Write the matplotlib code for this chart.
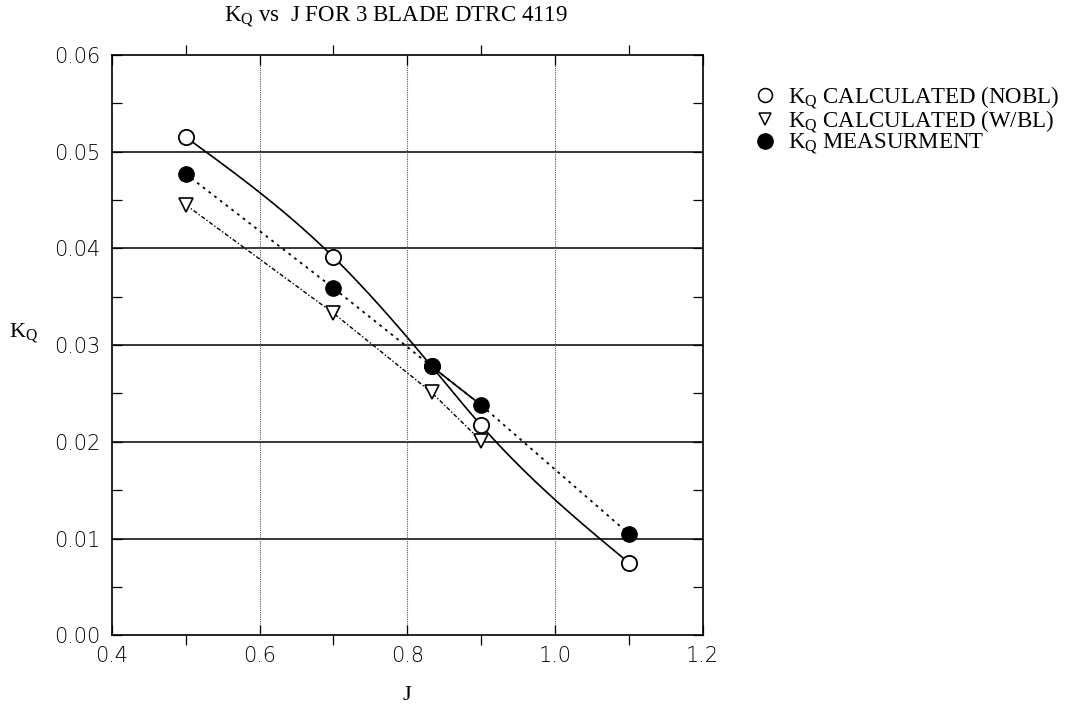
import numpy as np
import matplotlib
matplotlib.use("Agg")
import matplotlib.pyplot as plt
from matplotlib.ticker import MultipleLocator
from matplotlib.lines import Line2D

plt.rcParams['mathtext.fontset'] = 'custom'
plt.rcParams['mathtext.rm'] = 'Liberation Serif'

# advance coefficient and torque coefficient values
j_nobl = [0.5, 0.7, 0.833, 0.9, 1.1]
kq_nobl = [0.0515, 0.0391, 0.0278, 0.0217, 0.0075]

j_wbl = [0.5, 0.7, 0.833, 0.9]
kq_wbl = [0.0445, 0.0333, 0.0251, 0.0201]

j_meas = [0.5, 0.7, 0.833, 0.9, 1.1]
kq_meas = [0.0477, 0.0359, 0.0278, 0.0238, 0.0105]

x_ticks = [0.4, 0.6, 0.8, 1.0, 1.2]
y_ticks = [0.00, 0.01, 0.02, 0.03, 0.04, 0.05, 0.06]


def natural_spline(x, y, n=200):
    # natural cubic spline through the given points, for a smooth curve
    x = np.asarray(x, float)
    y = np.asarray(y, float)
    k = len(x)
    h = np.diff(x)
    A = np.zeros((k, k))
    b = np.zeros(k)
    A[0, 0] = A[-1, -1] = 1.0
    for i in range(1, k - 1):
        A[i, i - 1] = h[i - 1]
        A[i, i] = 2 * (h[i - 1] + h[i])
        A[i, i + 1] = h[i]
        b[i] = 6 * ((y[i + 1] - y[i]) / h[i] - (y[i] - y[i - 1]) / h[i - 1])
    m = np.linalg.solve(A, b)
    xs = np.linspace(x[0], x[-1], n)
    idx = np.clip(np.searchsorted(x, xs) - 1, 0, k - 2)
    x0, x1 = x[idx], x[idx + 1]
    hh = x1 - x0
    t0, t1 = x1 - xs, xs - x0
    ys = (m[idx] * t0**3 + m[idx + 1] * t1**3) / (6 * hh) \
        + (y[idx] / hh - m[idx] * hh / 6) * t0 \
        + (y[idx + 1] / hh - m[idx + 1] * hh / 6) * t1
    return xs, ys


fig = plt.figure(figsize=(10.76, 7.13), dpi=100)
ax = fig.add_axes([0.104, 0.109, 0.549, 0.814])

ax.set_xlim(0.4, 1.2)
ax.set_ylim(0.0, 0.06)

# grid: solid horizontals, faint dotted verticals
for yv in y_ticks[1:-1]:
    ax.axhline(yv, color='black', lw=1.1, zorder=1)
for xv in x_ticks[1:-1]:
    ax.axvline(xv, color='#555555', lw=0.8, ls=(0, (1, 1)), zorder=1)

xs, ys = natural_spline(j_nobl, kq_nobl)
ax.plot(xs, ys, color='black', lw=1.2, zorder=2)
ax.plot(j_meas, kq_meas, color='black', lw=1.3, ls=(0, (1.5, 2.5)), zorder=2)
# the pen ran solid between the third and fourth measured points
ax.plot(j_meas[2:4], kq_meas[2:4], color='black', lw=1.2, zorder=2)
ax.plot(j_wbl, kq_wbl, color='black', lw=1.0, ls=(0, (3, 1.5, 1, 1.5)), zorder=2)

ax.plot(j_nobl, kq_nobl, ls='none', marker='o', ms=11, mfc='white',
        mec='black', mew=1.3, zorder=3)
ax.plot(j_wbl, kq_wbl, ls='none', marker='v', ms=10, mfc='white',
        mec='black', mew=1.2, zorder=3)
ax.plot(j_meas, kq_meas, ls='none', marker='o', ms=11, mfc='black',
        mec='black', zorder=4)

ax.set_xticks(x_ticks)
ax.set_xticklabels(['%.1f' % v for v in x_ticks])
ax.set_yticks(y_ticks)
ax.set_yticklabels(['%.2f' % v for v in y_ticks])
ax.xaxis.set_minor_locator(MultipleLocator(0.1))
ax.yaxis.set_minor_locator(MultipleLocator(0.005))
ax.tick_params(which='both', direction='in', top=True, right=True,
               length=7, width=0.9, labelsize=15, pad=8)
ax.tick_params(axis='x', which='minor', direction='out', length=7)
for lab in ax.get_xticklabels() + ax.get_yticklabels():
    lab.set_fontfamily('DejaVu Sans')
    lab.set_fontweight('light')
for sp in ax.spines.values():
    sp.set_linewidth(1.2)

serif = 'Liberation Serif'
ax.set_title(r'$\mathregular{K_Q}$ vs  J FOR 3 BLADE DTRC 4119',
             fontfamily=serif, fontsize=16.5, pad=24, x=0.48)
ax.set_xlabel('J', fontfamily=serif, fontsize=16, labelpad=14)
ax.set_ylabel(r'$\mathregular{K_Q}$', fontfamily=serif, fontsize=16,
              rotation=0, labelpad=4)
ax.yaxis.set_label_coords(-0.15, 0.5)

handles = [
    Line2D([], [], ls='none', marker='o', ms=10, mfc='white', mec='black', mew=1.1),
    Line2D([], [], ls='none', marker='v', ms=9, mfc='white', mec='black', mew=1.1),
    Line2D([], [], ls='none', marker='o', ms=11, mfc='black', mec='black'),
]
labels = [r'$\mathregular{K_Q}$ CALCULATED (NOBL)',
          r'$\mathregular{K_Q}$ CALCULATED (W/BL)',
          r'$\mathregular{K_Q}$ MEASURMENT']
ax.legend(handles, labels, loc='upper left', bbox_to_anchor=(1.075, 0.965),
          frameon=False, handlelength=0.8, handletextpad=0.6,
          labelspacing=-0.12, borderaxespad=0,
          prop={'family': serif, 'size': 16.5})

fig.savefig('out.png', dpi=100)
